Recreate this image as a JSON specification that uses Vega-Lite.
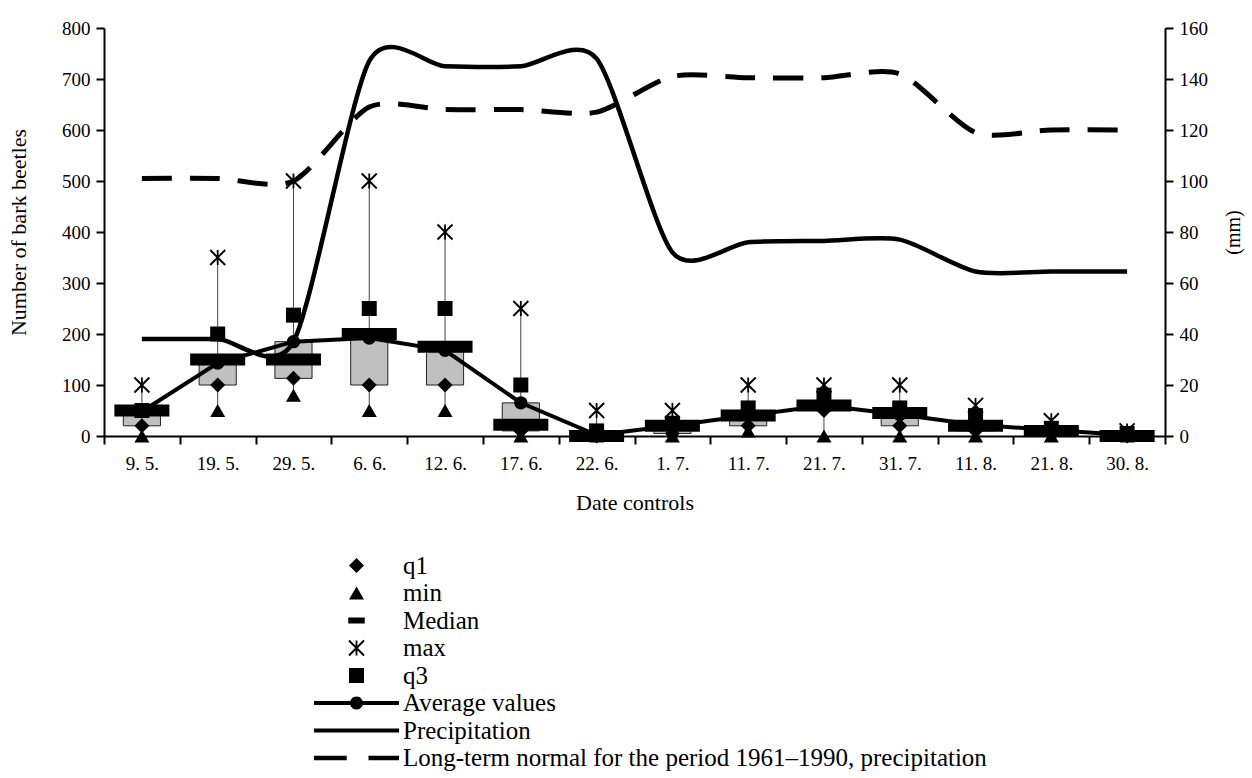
{
  "$schema": "https://vega.github.io/schema/vega-lite/v6.json",
  "width": 1061,
  "height": 408,
  "autosize": {"type": "none"},
  "padding": {"left": 104, "top": 28, "right": 87, "bottom": 342},
  "background": "white",
  "config": {
    "view": {"stroke": null},
    "font": "Liberation Serif",
    "axis": {
      "labelFont": "Liberation Serif", "titleFont": "Liberation Serif",
      "labelColor": "black", "titleColor": "black",
      "domainColor": "black", "tickColor": "black",
      "domainWidth": 2, "tickWidth": 2, "grid": false,
      "labelFontSize": 19, "titleFontSize": 22, "titleFontWeight": "normal"
    },
    "legend": {
      "orient": "none", "legendX": 240, "legendY": 525, "direction": "vertical",
      "labelFont": "Liberation Serif", "labelFontSize": 25, "labelColor": "black",
      "symbolSize": 225, "labelOffset": 34, "rowPadding": 1.5, "padding": 0,
      "labelLimit": 900, "symbolFillColor": "black", "symbolStrokeColor": "black",
      "symbolStrokeWidth": 0, "title": null
    }
  },
  "data": {
    "values": [
      {"date": "9. 5.", "min": 0, "q1": 20, "median": 50, "mean": 48, "q3": 50, "max": 100, "precip": 38, "normal": 101},
      {"date": "19. 5.", "min": 50, "q1": 100, "median": 150, "mean": 143, "q3": 200, "max": 350, "precip": 38, "normal": 101},
      {"date": "29. 5.", "min": 80, "q1": 113, "median": 150, "mean": 185, "q3": 237, "max": 500, "precip": 37, "normal": 100},
      {"date": "6. 6.", "min": 50, "q1": 100, "median": 200, "mean": 192, "q3": 250, "max": 500, "precip": 147, "normal": 129},
      {"date": "12. 6.", "min": 50, "q1": 100, "median": 175, "mean": 168, "q3": 250, "max": 400, "precip": 145, "normal": 128},
      {"date": "17. 6.", "min": 0, "q1": 10, "median": 22, "mean": 65, "q3": 100, "max": 250, "precip": 145, "normal": 128},
      {"date": "22. 6.", "min": 0, "q1": 0, "median": 0, "mean": 2, "q3": 10, "max": 50, "precip": 148, "normal": 127},
      {"date": "1. 7.", "min": 0, "q1": 5, "median": 20, "mean": 20, "q3": 25, "max": 50, "precip": 72, "normal": 141},
      {"date": "11. 7.", "min": 10, "q1": 20, "median": 40, "mean": 40, "q3": 55, "max": 100, "precip": 76, "normal": 140.5},
      {"date": "21. 7.", "min": 0, "q1": 50, "median": 60, "mean": 60, "q3": 80, "max": 100, "precip": 76.5, "normal": 140.5},
      {"date": "31. 7.", "min": 0, "q1": 20, "median": 45, "mean": 42, "q3": 55, "max": 100, "precip": 77, "normal": 142},
      {"date": "11. 8.", "min": 0, "q1": 10, "median": 20, "mean": 22, "q3": 40, "max": 60, "precip": 64.5, "normal": 119},
      {"date": "21. 8.", "min": 0, "q1": 5, "median": 10, "mean": 12, "q3": 15, "max": 30, "precip": 64.5, "normal": 120},
      {"date": "30. 8.", "min": 0, "q1": 0, "median": 0, "mean": 2, "q3": 5, "max": 10, "precip": 64.5, "normal": 120}
    ]
  },
  "encoding": {
    "x": {
      "field": "date", "type": "ordinal", "title": "Date controls",
      "scale": {"domain": ["9. 5.", "19. 5.", "29. 5.", "6. 6.", "12. 6.", "17. 6.", "22. 6.", "1. 7.", "11. 7.", "21. 7.", "31. 7.", "11. 8.", "21. 8.", "30. 8."], "paddingInner": 0, "paddingOuter": 0},
      "axis": {"tickBand": "extent", "labelAngle": 0, "tickSize": 8, "labelPadding": 10, "titlePadding": 19, "labelFontSize": 19}
    }
  },
  "layer": [
    {
      "layer": [
        {
          "mark": {"type": "rule", "color": "#444444", "strokeWidth": 1},
          "encoding": {
            "y": {"field": "min", "type": "quantitative", "title": "Number of bark beetles",
              "scale": {"domain": [0, 800], "nice": false},
              "axis": {"values": [0, 100, 200, 300, 400, 500, 600, 700, 800], "tickSize": 8, "labelPadding": 6, "titlePadding": 31}},
            "y2": {"field": "max"}
          }
        },
        {
          "mark": {"type": "bar", "fill": "#c0c0c0", "stroke": "#222222", "strokeWidth": 1, "width": {"band": 0.49}},
          "encoding": {
            "y": {"field": "q1", "type": "quantitative", "title": "Number of bark beetles"},
            "y2": {"field": "mean"}
          }
        },
        {
          "mark": {"type": "tick", "color": "black", "size": 55, "thickness": 12, "opacity": 1},
          "encoding": {
            "y": {"field": "median", "type": "quantitative", "title": "Number of bark beetles"}
          }
        },
        {
          "mark": {"type": "line", "color": "black", "strokeWidth": 4},
          "encoding": {
            "y": {"field": "mean", "type": "quantitative", "title": "Number of bark beetles"}
          }
        },
        {
          "mark": {"type": "point", "shape": "circle", "filled": true, "color": "black", "opacity": 1, "size": 180},
          "encoding": {
            "y": {"field": "mean", "type": "quantitative", "title": "Number of bark beetles"}
          }
        },
        {
          "transform": [{"fold": ["q1", "min", "max", "q3"], "as": ["series", "value"]}],
          "mark": {"type": "point", "filled": true, "color": "black", "opacity": 1, "size": 225},
          "encoding": {
            "y": {"field": "value", "type": "quantitative", "title": "Number of bark beetles"},
            "shape": {
              "field": "series", "type": "nominal",
              "scale": {
                "domain": ["q1", "min", "Median", "max", "q3", "Average values", "Precipitation", "Long-term normal for the period 1961–1990, precipitation"],
                "range": [
                  "diamond",
                  "triangle-up",
                  "M-1.1,-0.4L1.1,-0.4L1.1,0.4L-1.1,0.4Z",
                  "M-0.91,-1.09L1.09,0.91L0.91,1.09L-1.09,-0.91Z M-1.09,0.91L0.91,-1.09L1.09,-0.91L-0.91,1.09Z M-0.12,-1L0.12,-1L0.12,1L-0.12,1Z",
                  "square",
                  "M-5.67,-0.27L5.67,-0.27L5.67,0.27L-5.67,0.27Z M-0.87,0A0.87,0.87,0,1,1,0.87,0A0.87,0.87,0,1,1,-0.87,0Z",
                  "M-5.67,-0.27L5.67,-0.27L5.67,0.27L-5.67,0.27Z",
                  "M-5.67,-0.3L-1.3,-0.3L-1.3,0.3L-5.67,0.3Z M1.6,-0.3L5.67,-0.3L5.67,0.3L1.6,0.3Z"
                ]
              },
              "legend": {"title": null}
            }
          }
        }
      ]
    },
    {
      "layer": [
        {
          "mark": {"type": "line", "color": "black", "strokeWidth": 4.5, "interpolate": "cardinal", "tension": 0.25},
          "encoding": {
            "y": {"field": "precip", "type": "quantitative", "title": "(mm)",
              "scale": {"domain": [0, 160], "nice": false},
              "axis": {"orient": "right", "values": [0, 20, 40, 60, 80, 100, 120, 140, 160], "tickSize": 8, "labelPadding": 6, "titlePadding": 36, "titleAngle": -90, "titleFontSize": 20}}
          }
        },
        {
          "mark": {"type": "line", "color": "black", "strokeWidth": 5, "interpolate": "cardinal", "tension": 0.25, "strokeDash": [30, 18]},
          "encoding": {
            "y": {"field": "normal", "type": "quantitative", "title": "(mm)"}
          }
        }
      ]
    }
  ],
  "resolve": {"scale": {"y": "independent"}}
}
